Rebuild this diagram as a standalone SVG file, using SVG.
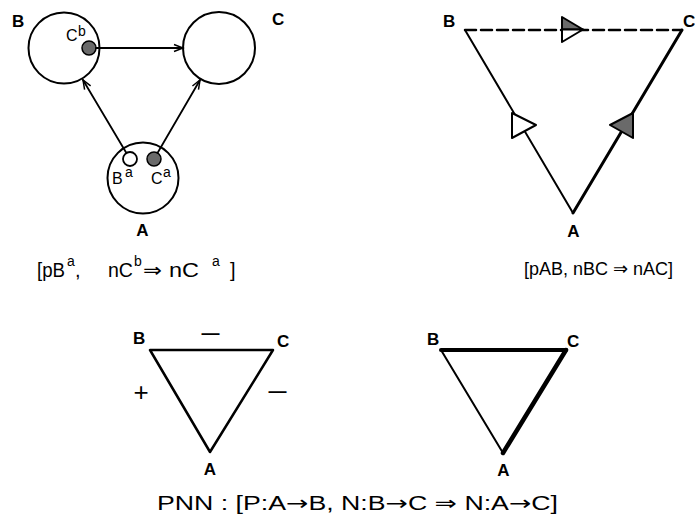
<svg xmlns="http://www.w3.org/2000/svg" width="695" height="525" viewBox="0 0 695 525">
<defs>
<style>
.t{font-family:"Liberation Sans",Arial,"DejaVu Sans",sans-serif;fill:#000}
.lbl{font-size:17px;font-weight:bold}
.f{font-size:20px}
.sup{font-size:14px}
.sm{font-size:16px}
.ln{stroke:#000;fill:none;stroke-linecap:round;stroke-linejoin:round}
.circ{fill:#fff;stroke:#000;stroke-width:2}
.dot{fill:#6a6a6a;stroke:#000;stroke-width:1.5}
</style>
<marker id="arr" markerUnits="userSpaceOnUse" markerWidth="12" markerHeight="10" viewBox="-10 -5 12 10" refX="0" refY="0" orient="auto">
<path d="M-9,-3.5 L0,0 L-9,3.5" fill="none" stroke="#000" stroke-width="1.5"/>
</marker>
</defs>
<rect width="695" height="525" fill="#fff"/>

<!-- Top-left diagram -->
<g id="nodeB1">
<circle class="circ" cx="64" cy="48" r="35.5"/>
<text class="t lbl" x="12" y="27">B</text>
<circle class="dot" cx="89" cy="48" r="7"/>
<text class="t sm" x="66" y="41">C</text>
<text class="t sup" x="78" y="36">b</text>
</g>
<g id="nodeC1">
<circle class="circ" cx="219" cy="48" r="36"/>
<text class="t lbl" x="272" y="25">C</text>
</g>
<g id="nodeA1">
<circle class="circ" cx="143" cy="178" r="35.5"/>
<circle cx="130" cy="159" r="7" fill="#fff" stroke="#000" stroke-width="1.8"/>
<circle class="dot" cx="154" cy="159" r="7"/>
<text class="t sm" x="112" y="184">B</text>
<text class="t sup" x="125" y="177">a</text>
<text class="t sm" x="151" y="184">C</text>
<text class="t sup" x="163" y="177">a</text>
<text class="t lbl" x="142.5" y="236" text-anchor="middle">A</text>
</g>
<g id="edges1">
<line class="ln" x1="96" y1="48" x2="183" y2="48" stroke-width="1.8" marker-end="url(#arr)"/>
<line class="ln" x1="126.4" y1="153" x2="83" y2="80" stroke-width="1.8" marker-end="url(#arr)"/>
<line class="ln" x1="157.5" y1="153" x2="200" y2="80" stroke-width="1.8" marker-end="url(#arr)"/>
</g>
<g id="caption1">
<text class="t f" x="37" y="277" textLength="28" lengthAdjust="spacingAndGlyphs">[pB</text>
<text class="t sup" x="67" y="266">a</text>
<text class="t f" x="75" y="277">,</text>
<text class="t f" x="108" y="277" textLength="25" lengthAdjust="spacingAndGlyphs">nC</text>
<text class="t sup" x="134" y="266">b</text>
<text class="t f" x="143" y="277" font-family="DejaVu Sans" textLength="19" lengthAdjust="spacingAndGlyphs">⇒</text>
<text class="t f" x="169" y="277" textLength="30" lengthAdjust="spacingAndGlyphs">nC</text>
<text class="t sup" x="212" y="266">a</text>
<text class="t f" x="230" y="277">]</text>
</g>

<!-- Top-right diagram -->
<g id="nodeB2"><text class="t lbl" x="443" y="27">B</text></g>
<g id="nodeC2"><text class="t lbl" x="683" y="27">C</text></g>
<g id="nodeA2"><text class="t lbl" x="573.5" y="237" text-anchor="middle">A</text></g>
<g id="edges2">
<line class="ln" x1="465" y1="30" x2="682" y2="30" stroke-width="2.5" stroke-dasharray="11,5"/>
<line class="ln" x1="465" y1="30" x2="573" y2="213" stroke-width="2"/>
<line class="ln" x1="573" y1="213" x2="682" y2="30" stroke-width="3"/>
<polygon points="562,17 583,29.5 562,29.5" fill="#6a6a6a" stroke="#000" stroke-width="2" stroke-linejoin="round"/>
<polygon points="562,29.5 583,29.5 562,42" fill="#fff" stroke="#000" stroke-width="2" stroke-linejoin="round"/>
<polygon points="512,113 536,125 512,138" fill="#fff" stroke="#000" stroke-width="2" stroke-linejoin="round"/>
<polygon points="633,113 610,125 633,138" fill="#6a6a6a" stroke="#000" stroke-width="2" stroke-linejoin="round"/>
</g>
<g id="caption2">
<text class="t" font-size="18" x="598.5" y="275" text-anchor="middle">[pAB, nBC <tspan font-family="DejaVu Sans">⇒</tspan> nAC]</text>
</g>

<!-- Bottom-left triangle -->
<g id="nodeB3"><text class="t lbl" x="133" y="344">B</text></g>
<g id="nodeC3"><text class="t lbl" x="277" y="347">C</text></g>
<g id="nodeA3"><text class="t lbl" x="210" y="475" text-anchor="middle">A</text></g>
<g id="edges3">
<polygon class="ln" points="150,350 273,350 210,452" stroke-width="2.5"/>
<text class="t" x="210.5" y="339" font-size="18" font-weight="bold" text-anchor="middle">—</text>
<text class="t" x="277.5" y="397" font-size="18" font-weight="bold" text-anchor="middle">—</text>
<text class="t" x="141" y="401" font-size="26" text-anchor="middle">+</text>
</g>

<!-- Bottom-right triangle -->
<g id="nodeB4"><text class="t lbl" x="427" y="345">B</text></g>
<g id="nodeC4"><text class="t lbl" x="567" y="347">C</text></g>
<g id="nodeA4"><text class="t lbl" x="503.5" y="476" text-anchor="middle">A</text></g>
<g id="edges4">
<line class="ln" x1="441" y1="350" x2="503" y2="453" stroke-width="2"/>
<line class="ln" x1="441" y1="350" x2="566" y2="350" stroke-width="4"/>
<line class="ln" x1="503" y1="453" x2="566" y2="350" stroke-width="4.5"/>
</g>
<g id="caption3">
<text class="t" font-size="20" x="157" y="510" textLength="401" lengthAdjust="spacingAndGlyphs">PNN : [P:A<tspan font-family="DejaVu Sans">→</tspan>B, N:B<tspan font-family="DejaVu Sans">→</tspan>C <tspan font-family="DejaVu Sans">⇒</tspan> N:A<tspan font-family="DejaVu Sans">→</tspan>C]</text>
</g>
</svg>
